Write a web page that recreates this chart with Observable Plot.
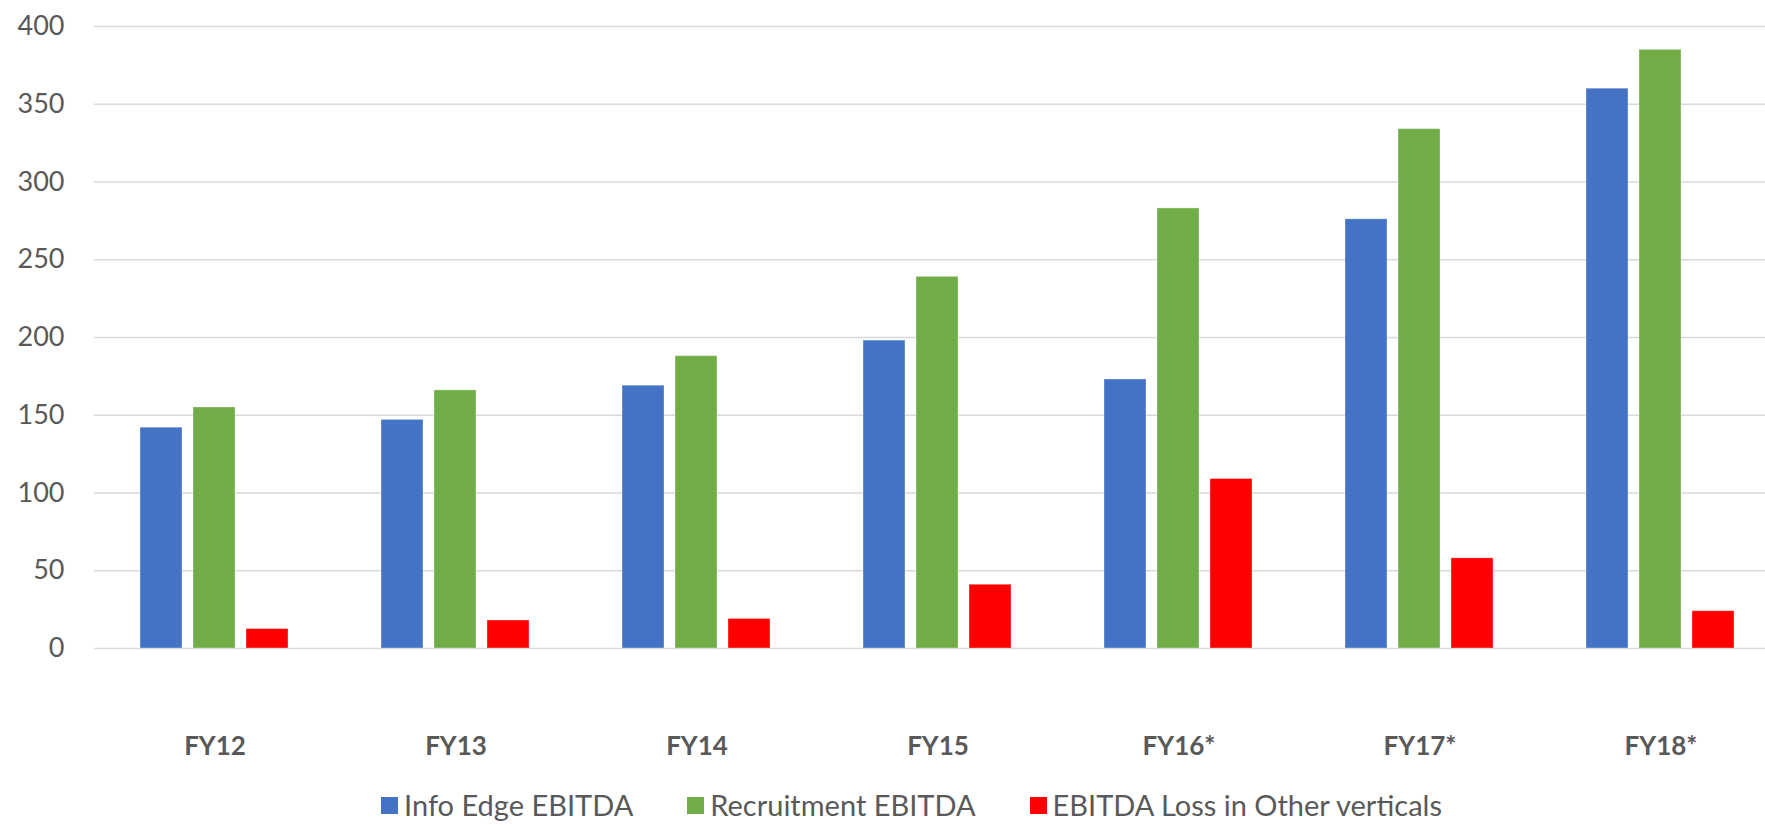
<!DOCTYPE html>
<html>
<head>
<meta charset="utf-8">
<script src="https://cdn.jsdelivr.net/npm/d3@7"></script>
<script src="https://cdn.jsdelivr.net/npm/@observablehq/plot@0.6"></script>
<style>
  html, body { margin: 0; padding: 0; background: #fff; overflow: hidden; }
  #chart { width: 1765px; overflow: hidden; }
  .legend { display: flex; justify-content: center; align-items: center; gap: 54px;
    font-family: Lato, "Noto Sans", sans-serif; font-size: 29px; color: #595959;
    height: 38px; line-height: 38px; margin-left: 58px; }
  .legend .item { display: flex; align-items: center; }
  .legend .sw { width: 17px; height: 17px; margin-right: 6px; display: inline-block; }
</style>
</head>
<body>
<div id="chart"></div>
<script>
const years = ["FY12", "FY13", "FY14", "FY15", "FY16*", "FY17*", "FY18*"];
const seriesNames = ["Info Edge EBITDA", "Recruitment EBITDA", "EBITDA Loss in Other verticals"];
const infoEdge = [142, 147, 169, 198, 173, 276, 360];
const recruitment = [155, 166, 188, 239, 283, 334, 385];
const otherLoss = [12.5, 18, 19, 41, 109, 58, 24];
const seriesColors = ["#4472c4", "#70ad47", "#ff0000"];
const yTicks = [0, 50, 100, 150, 200, 250, 300, 350, 400];

const allSeries = [infoEdge, recruitment, otherLoss];
const data = [];
years.forEach((yr, i) => {
  seriesNames.forEach((s, j) => data.push({ year: yr, series: s, value: allSeries[j][i] }));
});

const chart = Plot.plot({
  width: 1765,
  height: 786,
  marginLeft: 93,
  marginRight: -16,
  marginTop: 26,
  marginBottom: 138,
  style: { fontFamily: "Lato, 'Noto Sans', sans-serif", background: "#fff", color: "#595959" },
  fx: { domain: years, paddingInner: 0, paddingOuter: 0, label: null },
  x: { domain: seriesNames, paddingInner: 0.2, paddingOuter: 0.852, axis: null },
  y: { domain: [0, 400], label: null },
  color: { domain: seriesNames, range: seriesColors },
  marks: [
    Plot.gridY(yTicks, { stroke: "#d9d9d9", strokeOpacity: 1, strokeWidth: 1.5 }),
    Plot.axisY(yTicks, { tickSize: 0, tickPadding: 30, fontSize: 27, fill: "#595959", label: null }),
    Plot.axisFx({ anchor: "bottom", tickSize: 0, tickPadding: 88, fontSize: 26, fontWeight: "bold", fill: "#595959", label: null }),
    Plot.barY(data, { fx: "year", x: "series", y: "value", fill: "series", stroke: "#ffffff", strokeOpacity: 0.35, strokeWidth: 1 })
  ]
});
document.getElementById("chart").appendChild(chart);

const legend = document.createElement("div");
legend.className = "legend";
seriesNames.forEach((s, j) => {
  const item = document.createElement("span");
  item.className = "item";
  const sw = document.createElement("span");
  sw.className = "sw";
  sw.style.background = seriesColors[j];
  const t = document.createElement("span");
  t.textContent = s;
  item.appendChild(sw);
  item.appendChild(t);
  legend.appendChild(item);
});
document.getElementById("chart").appendChild(legend);
</script>
</body>
</html>
